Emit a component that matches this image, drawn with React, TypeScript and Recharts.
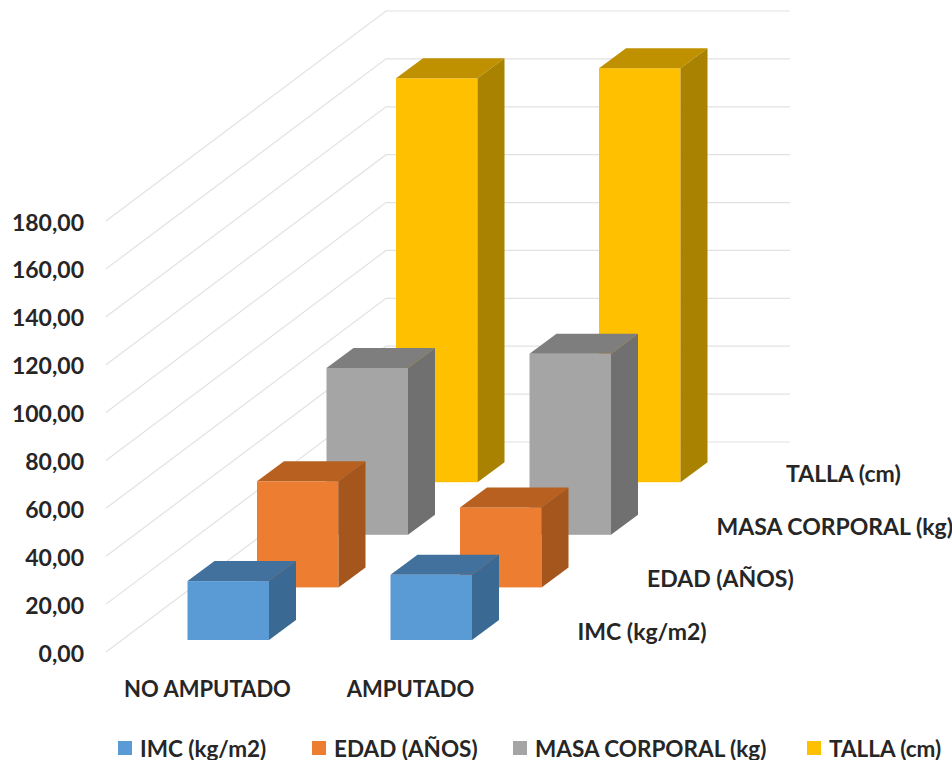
import React from 'react';
import { BarChart, Bar, XAxis, YAxis, CartesianGrid, Legend } from 'recharts';

const categories = ['NO AMPUTADO', 'AMPUTADO'];
const seriesNames = ['IMC (kg/m2)', 'EDAD (AÑOS)', 'MASA CORPORAL (kg)', 'TALLA (cm)'];
const imc = [24.6, 27.2];
const edad = [44.3, 33.4];
const masa = [69.7, 75.6];
const talla = [168.7, 172.9];
const yTicks = [0, 20, 40, 60, 80, 100, 120, 140, 160, 180];

const data = categories.map((name, i) => ({
  name,
  [seriesNames[0]]: imc[i],
  [seriesNames[1]]: edad[i],
  [seriesNames[2]]: masa[i],
  [seriesNames[3]]: talla[i],
}));

// front, top, side shades for each series
const palette = [
  ['#5B9BD5', '#41719C', '#3A6A94'],
  ['#ED7D31', '#B7601F', '#A5561C'],
  ['#A5A5A5', '#7E7E7E', '#707070'],
  ['#FFC000', '#BF9000', '#A88200'],
];

const FONT = 'Lato, sans-serif';
const TEXT = '#262626';

// fake 3D: every series sits one slot further back on the floor
const SLOT_X = 69.5;
const SLOT_Y = 52.6;
const START_X = 20.5;
const START_Y = 12;
const BOX_X = 27;
const BOX_Y = 20;
const WALL_X = 280;
const WALL_Y = 210;
const WALL_END = 790;

const Box = (props: any) => {
  const { x, y, width, height, index, depth } = props;
  const [front, top, side] = palette[depth];
  const left = x + START_X + depth * SLOT_X;
  const up = y - START_Y - depth * SLOT_Y;
  const right = left + width;
  const bottom = up + height;
  return (
    <g>
      <rect x={left} y={up} width={width} height={height} fill={front} />
      <polygon points={`${left},${up} ${left + BOX_X},${up - BOX_Y} ${right + BOX_X},${up - BOX_Y} ${right},${up}`} fill={top} />
      <polygon points={`${right},${up} ${right + BOX_X},${up - BOX_Y} ${right + BOX_X},${bottom - BOX_Y} ${right},${bottom}`} fill={side} />
      {index === 1 && (
        <text x={left + 187} y={bottom} fontFamily={FONT} fontWeight={700} fontSize={23} fill={TEXT}>
          {seriesNames[depth]}
        </text>
      )}
    </g>
  );
};

const WallLine = (props: any) => {
  const { x1, y1 } = props;
  return (
    <path
      d={`M${x1},${y1} L${x1 + WALL_X},${y1 - WALL_Y} L${WALL_END},${y1 - WALL_Y}`}
      fill="none"
      stroke="#E2E2E2"
      strokeWidth={1.2}
    />
  );
};

const YTick = ({ x, y, payload }: any) => (
  <text x={x - 2} y={y + 9.5} textAnchor="end" fontFamily={FONT} fontWeight={700} fontSize={23} fill={TEXT}>
    {payload.value.toFixed(2).replace('.', ',')}
  </text>
);

// each legend entry gets a fixed slot so the columns line up with the reference
const legendSlots = [194, 201, 294, 140];

const LegendRow = () => (
  <div style={{ display: 'flex', position: 'relative', top: 3, marginLeft: 118, height: 30, alignItems: 'center', fontFamily: FONT, fontWeight: 700, fontSize: 22.5, color: TEXT, whiteSpace: 'nowrap' }}>
    {seriesNames.map((name, i) => (
      <div key={name} style={{ display: 'flex', alignItems: 'center', gap: 8, width: legendSlots[i] }}>
        <span style={{ width: 14, height: 14, background: palette[i][0] }} />
        {name}
      </div>
    ))}
  </div>
);

export default function App() {
  return (
    <div style={{ position: 'absolute', left: 0, top: 0, width: 952, height: 760, background: '#fff' }}>
      <BarChart
        width={952}
        height={760}
        data={data}
        barSize={81.5}
        barGap={-81.5}
        barCategoryGap={0}
        margin={{ top: 221, right: 440, bottom: 0, left: 0 }}
      >
        <CartesianGrid horizontal={WallLine} vertical={false} />
        <XAxis
          dataKey="name"
          axisLine={false}
          tickLine={false}
          height={78}
          tickMargin={23}
          tick={{ fontFamily: FONT, fontWeight: 700, fontSize: 22, fill: TEXT }}
          interval={0}
        />
        <YAxis
          domain={[0, 180]}
          ticks={yTicks}
          width={106}
          axisLine={false}
          tickLine={false}
          tickMargin={14}
          tick={<YTick />}
        />
        <Legend content={<LegendRow />} verticalAlign="bottom" wrapperStyle={{ left: 0, width: 952 }} />
        <Bar dataKey={seriesNames[3]} isAnimationActive={false} shape={(p: any) => <Box {...p} depth={3} />} />
        <Bar dataKey={seriesNames[2]} isAnimationActive={false} shape={(p: any) => <Box {...p} depth={2} />} />
        <Bar dataKey={seriesNames[1]} isAnimationActive={false} shape={(p: any) => <Box {...p} depth={1} />} />
        <Bar dataKey={seriesNames[0]} isAnimationActive={false} shape={(p: any) => <Box {...p} depth={0} />} />
      </BarChart>
    </div>
  );
}
